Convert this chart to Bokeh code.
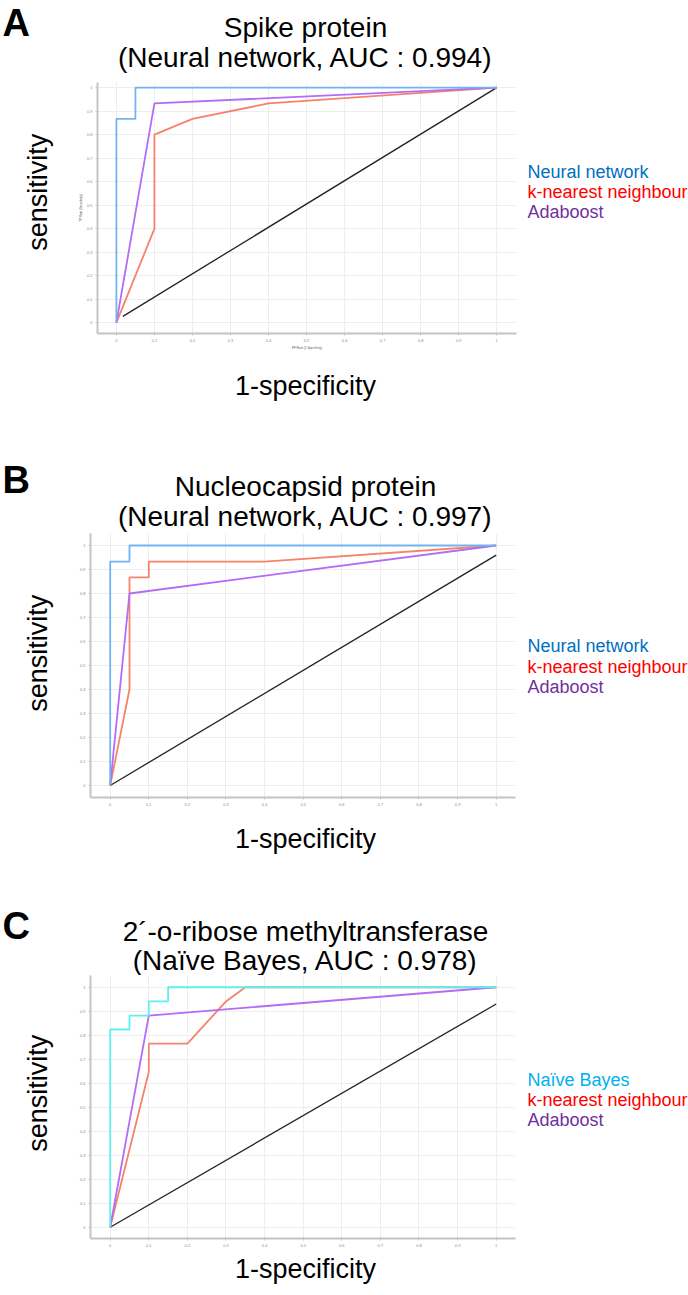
import math
from bokeh.plotting import figure
from bokeh.models import FixedTicker, Range1d, ColumnDataSource
from bokeh.layouts import column, row
from bokeh.core.properties import value
from bokeh.embed import file_html
from bokeh.resources import INLINE

# ---------------- data ----------------
tick_vals = [0, 0.1, 0.2, 0.3, 0.4, 0.5, 0.6, 0.7, 0.8, 0.9, 1]
tick_labels = ["0", "0.1", "0.2", "0.3", "0.4", "0.5", "0.6", "0.7", "0.8", "0.9", "1"]

# Panel A: Spike protein
A_nn_x = [0, 0, 0.05, 0.05, 1]
A_nn_y = [0, 0.867, 0.867, 1, 1]
A_knn_x = [0, 0.1, 0.1, 0.2, 0.4, 1]
A_knn_y = [0, 0.4, 0.8, 0.867, 0.933, 1]
A_ada_x = [0, 0.1, 1]
A_ada_y = [0, 0.933, 1]
A_ref_x = [0.017, 1]
A_ref_y = [0.027, 1]

# Panel B: Nucleocapsid protein
B_nn_x = [0, 0, 0.05, 0.05, 1]
B_nn_y = [0, 0.933, 0.933, 1, 1]
B_knn_x = [0, 0.05, 0.05, 0.1, 0.1, 0.4, 1]
B_knn_y = [0, 0.4, 0.867, 0.867, 0.933, 0.933, 1]
B_ada_x = [0, 0.05, 1]
B_ada_y = [0, 0.8, 1]
B_ref_x = [0, 1]
B_ref_y = [0, 0.96]

# Panel C: 2'-o-ribose methyltransferase
C_nb_x = [0, 0, 0.05, 0.05, 0.1, 0.1, 0.15, 0.15, 1]
C_nb_y = [0, 0.824, 0.824, 0.882, 0.882, 0.941, 0.941, 1, 1]
C_knn_x = [0, 0.1, 0.1, 0.2, 0.3, 0.35, 1]
C_knn_y = [0, 0.647, 0.765, 0.765, 0.941, 1, 1]
C_ada_x = [0, 0.1, 1]
C_ada_y = [0, 0.882, 1]
C_ref_x = [0, 1]
C_ref_y = [0, 0.93]

titles = [
    ("A", "Spike protein", "(Neural network, AUC : 0.994)"),
    ("B", "Nucleocapsid protein", "(Neural network, AUC : 0.997)"),
    ("C", "2\u00b4-o-ribose methyltransferase", "(Na\u00efve Bayes, AUC : 0.978)"),
]
legends = [
    ["Neural network", "k-nearest neighbour", "Adaboost"],
    ["Neural network", "k-nearest neighbour", "Adaboost"],
    ["Na\u00efve Bayes", "k-nearest neighbour", "Adaboost"],
]

FONT = "Liberation Sans"
W = 688
LEG_COL = {"nn": "#0070C0", "nb": "#00B0F0", "knn": "#FF0000", "ada": "#7030A0"}
LINE_COL = {"nn": "#72b4f2", "nb": "#5ef0f0", "knn": "#f5836c", "ada": "#b26cf6", "ref": "#222222"}

YT = 20   # room for y tick labels left of the frame
XB = 16   # room for x tick labels below the frame
RB = 6    # right pad of roc figure


def text_fig(w, h):
    p = figure(width=w, height=h, output_backend="svg", toolbar_location=None, title=None,
               x_range=Range1d(0, w), y_range=Range1d(0, h),
               min_border=0, x_axis_type=None, y_axis_type=None)
    p.outline_line_color = None
    p.grid.visible = False
    return p


def put(p, h, items, size, bold=False, align="left", base=True, angle=0.0):
    # items: (x, y_from_top, text, color); if base, y is the alphabetic baseline
    shift = 0.35 * size if base else 0.0
    src = ColumnDataSource(dict(x=[i[0] for i in items], y=[h - (i[1] - shift) for i in items],
                                t=[i[2] for i in items], c=[i[3] for i in items]))
    p.text(x="x", y="y", text="t", text_color="c", source=src,
           text_font=value(FONT), text_font_size=f"{size}px",
           text_font_style="bold" if bold else "normal",
           text_align=align, text_baseline="middle", angle=angle)


def make_panel(H, y0, frame, xr, yr, series, ttl, leg_items, leg_cols, pos, tiny_labels):
    left, right, top, bottom = frame
    letter_b, t1_b, t2_b, sens_y, spec_y, leg_b = pos
    top_h = top - y0
    mid_h = bottom - top + XB
    bot_h = H - top_h - mid_h
    left_w = left - YT
    roc_w = YT + (right - left) + RB
    right_w = W - left_w - roc_w

    # title block
    t = text_fig(W, top_h)
    put(t, top_h, [(2, letter_b - y0, ttl[0], "#000000")], 38, bold=True)
    put(t, top_h, [(305, t1_b - y0, ttl[1], "#000000"), (305, t2_b - y0, ttl[2], "#000000")],
        28, align="center")

    # y label block
    lf = text_fig(left_w, mid_h)
    put(lf, mid_h, [(37, sens_y - top, "sensitivity", "#000000")], 27,
        align="center", base=False, angle=math.pi / 2)

    # ROC plot
    p = figure(width=roc_w, height=mid_h, output_backend="svg", toolbar_location=None, title=None,
               x_range=Range1d(*xr), y_range=Range1d(*yr),
               min_border_left=YT, min_border_right=RB, min_border_top=0, min_border_bottom=XB)
    p.outline_line_color = None
    for ax in (p.xaxis[0], p.yaxis[0]):
        ax.ticker = FixedTicker(ticks=tick_vals)
        ax.major_label_overrides = {v: s for v, s in zip(tick_vals, tick_labels)}
        ax.major_label_text_font_size = "4px"
        ax.major_label_text_color = "#8a8a8a"
        ax.major_label_text_font = FONT
        ax.axis_line_color = "#c4c4c4"
        ax.axis_line_width = 2
        ax.major_tick_line_color = "#c4c4c4"
        ax.major_tick_out = 2
        ax.major_tick_in = 0
        ax.minor_tick_line_color = None
        ax.major_label_standoff = 3
    if tiny_labels:
        p.xaxis.axis_label = "FP Rate (1-Specificity)"
        p.yaxis.axis_label = "TP Rate (Sensitivity)"
        for ax in (p.xaxis[0], p.yaxis[0]):
            ax.axis_label_text_font_size = "3px"
            ax.axis_label_text_font_style = "normal"
            ax.axis_label_text_color = "#555555"
            ax.axis_label_text_font = FONT
            ax.axis_label_standoff = 2
    p.grid.grid_line_color = "#eeeeee"
    p.grid.grid_line_width = 1
    p.xgrid.ticker = FixedTicker(ticks=tick_vals)
    p.ygrid.ticker = FixedTicker(ticks=tick_vals)
    for xs, ys, key, w in series:
        p.line(xs, ys, line_color=LINE_COL[key], line_width=w)

    # legend block
    rf = text_fig(right_w, mid_h)
    x0 = 527 - (left_w + roc_w)
    put(rf, mid_h, [(x0, leg_b - top + 21.5 * i, s, c)
                    for i, (s, c) in enumerate(zip(leg_items, leg_cols))], 18)

    # x label block
    bf = text_fig(W, bot_h)
    put(bf, bot_h, [(305, spec_y - (bottom + XB), "1-specificity", "#000000")], 27,
        align="center", base=False)

    return column(t, row(lf, p, rf, spacing=0), bf, spacing=0)


HA, HB, HC = 440, 430, 425
yA, yB, yC = 0, HA, HA + HB

pA = make_panel(HA, yA, (95, 516, 82, 336), (-0.0497, 1.052), (-0.046, 1.022),
                [(A_ref_x, A_ref_y, "ref", 1.3), (A_knn_x, A_knn_y, "knn", 1.8),
                 (A_ada_x, A_ada_y, "ada", 1.8), (A_nn_x, A_nn_y, "nn", 1.8)],
                titles[0], legends[0], [LEG_COL["nn"], LEG_COL["knn"], LEG_COL["ada"]],
                (36, 37, 67, 200, 385, 185), True)

pB = make_panel(HB, yB, (90, 515, 533, 797), (-0.051, 1.05), (-0.05, 1.05),
                [(B_ref_x, B_ref_y, "ref", 1.3), (B_knn_x, B_knn_y, "knn", 1.8),
                 (B_ada_x, B_ada_y, "ada", 1.8), (B_nn_x, B_nn_y, "nn", 1.8)],
                titles[1], legends[1], [LEG_COL["nn"], LEG_COL["knn"], LEG_COL["ada"]],
                (493, 496, 526, 660, 838, 659), False)

pC = make_panel(HC, yC, (90, 515, 975, 1238), (-0.051, 1.05), (-0.047, 1.049),
                [(C_ref_x, C_ref_y, "ref", 1.3), (C_knn_x, C_knn_y, "knn", 1.8),
                 (C_ada_x, C_ada_y, "ada", 1.8), (C_nb_x, C_nb_y, "nb", 1.8)],
                titles[2], legends[2], [LEG_COL["nb"], LEG_COL["knn"], LEG_COL["ada"]],
                (939, 941, 970, 1100, 1268, 1092), False)

layout = column(pA, pB, pC, spacing=0)
open("out.html", "w").write(file_html(layout, INLINE))
